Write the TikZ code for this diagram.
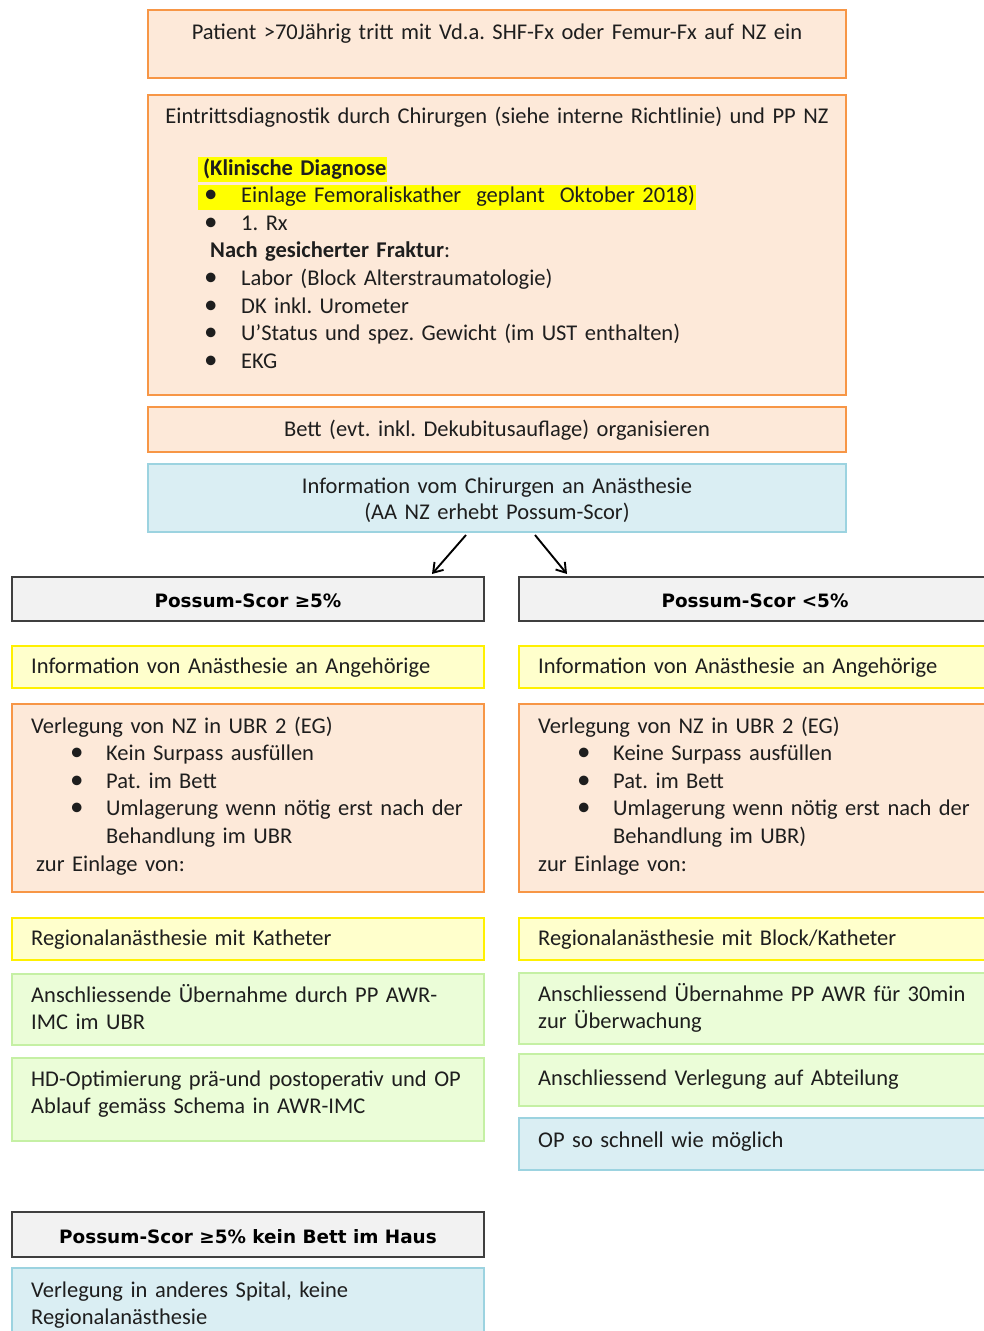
\documentclass[tikz,border=0pt]{standalone}
\usepackage{fontspec}
\setmainfont{Carlito}
\newfontfamily\hdfont{DejaVu Sans}
\usetikzlibrary{arrows.meta,calc}
\frenchspacing
\definecolor{ofill}{HTML}{FDE9D9}
\definecolor{odraw}{HTML}{F79646}
\definecolor{bfill}{HTML}{DAEEF3}
\definecolor{bdraw}{HTML}{9CD3E0}
\definecolor{yfill}{HTML}{FFFFCC}
\definecolor{ydraw}{HTML}{FFF000}
\definecolor{gfill}{HTML}{EBFDD8}
\definecolor{gdraw}{HTML}{C5F0A4}
\definecolor{kfill}{HTML}{F2F2F2}
\definecolor{kdraw}{HTML}{3F3F3F}
\definecolor{hly}{HTML}{FFFF00}
\definecolor{txtc}{HTML}{1E1E1E}
\newcommand\hlbox[1]{{\setlength{\fboxsep}{0pt}\hspace*{-5pt}\colorbox{hly}{\rule[-7pt]{0pt}{25pt}\hspace{5pt}#1\hspace{1pt}}}}
\newcommand\bul{\scalebox{1.2}{•}}
\newcommand\bl[1]{\hspace*{39pt}\makebox[36pt][l]{\bul}#1}
\newcommand\eb[1]{\hspace*{1pt}\makebox[37pt][l]{\bul}#1}
\tikzset{
  box/.style={rectangle, inner sep=0pt, line width=2pt},
  obox/.style={box, fill=ofill, draw=odraw, line width=2.6pt},
  bbox/.style={box, fill=bfill, draw=bdraw},
  ybox/.style={box, fill=yfill, draw=ydraw},
  gbox/.style={box, fill=gfill, draw=gdraw},
  kbox/.style={box, fill=kfill, draw=kdraw},
  txt/.style={inner sep=0pt, anchor=base west, align=left, text width=#1,
    font=\fontsize{22.5}{27.6}\selectfont, text=txtc},
  txt/.default=460pt,
  ctxt/.style={inner sep=0pt, anchor=base, align=center, text width=#1,
    font=\fontsize{22.5}{26}\selectfont, text=txtc},
  ctxt/.default=690pt,
  hd/.style={inner sep=0pt, anchor=base, font=\hdfont\bfseries\fontsize{18.4}{22}\selectfont, text=black},
  arr/.style={line width=1.9pt, -{Straight Barb[length=9pt,width=12pt,line width=1.9pt]}}
}
\begin{document}
\begin{tikzpicture}[x=1pt,y=-1pt]
\path[use as bounding box] (0,0) rectangle (984,1331);
\clip (0,0) rectangle (984,1331);
\fill[white] (0,0) rectangle (984,1331);
% boxes
\node[obox, minimum width=698pt, minimum height=68pt] (top) at (497,44) {};
\node[obox, minimum width=698pt, minimum height=300pt] (eintr) at (497,245) {};
\node[obox, minimum width=698pt, minimum height=45pt] (bett) at (497,429.5) {};
\node[bbox, minimum width=698pt, minimum height=68pt] (info) at (497,498) {};
\node[kbox, minimum width=472pt, minimum height=44pt] (pl) at (248,599) {};
\node[kbox, minimum width=472pt, minimum height=44pt] (pr) at (755,599) {};
\node[ybox, minimum width=472pt, minimum height=42pt] (yl1) at (248,667) {};
\node[ybox, minimum width=472pt, minimum height=42pt] (yr1) at (755,667) {};
\node[obox, minimum width=472pt, minimum height=188pt] (ol) at (248,798) {};
\node[obox, minimum width=472pt, minimum height=188pt] (or) at (755,798) {};
\node[ybox, minimum width=472pt, minimum height=42pt] (yl2) at (248,939) {};
\node[ybox, minimum width=472pt, minimum height=42pt] (yr2) at (755,939) {};
\node[gbox, minimum width=472pt, minimum height=71pt] (gl1) at (248,1009.5) {};
\node[gbox, minimum width=472pt, minimum height=71pt] (gr1) at (755,1008.5) {};
\node[gbox, minimum width=472pt, minimum height=83pt] (gl2) at (248,1099.5) {};
\node[gbox, minimum width=472pt, minimum height=52pt] (gr2) at (755,1080) {};
\node[bbox, minimum width=472pt, minimum height=52pt] (br) at (755,1144) {};
\node[kbox, minimum width=472pt, minimum height=45pt] (kb) at (248,1234.5) {};
\node[bbox, minimum width=472pt, minimum height=77pt] (bb) at (248,1306.5) {};
% arrows
\draw[arr] ($(info.south)+(-31,2)$) -- ($(pl.north)+(184,-2)$);
\draw[arr] ($(info.south)+(38,2)$) -- ($(pr.north)+(-188,-2)$);
% texts
\node[ctxt] (ttop) at (497,39) {Patient >70Jährig tritt mit Vd.a. SHF-Fx oder Femur-Fx auf NZ ein};
\node[ctxt] (teintr) at (497,123) {Eintrittsdiagnostik durch Chirurgen (siehe interne Richtlinie) und PP NZ};
\node[txt=620pt] (tlist) at (203,175) {\hlbox{\textbf{(Klinische Diagnose}}\\
\hlbox{\eb{Einlage Femoraliskather\ \ geplant\ \ Oktober 2018)}}\\
\eb{1. Rx}\\
\hspace*{7pt}\textbf{Nach gesicherter Fraktur}:\\
\eb{Labor (Block Alterstraumatologie)}\\
\eb{DK inkl. Urometer}\\
\eb{U'Status und spez. Gewicht (im UST enthalten)}\\
\eb{EKG}};
\node[ctxt] (tbett) at (497,436) {Bett (evt. inkl. Dekubitusauflage) organisieren};
\node[ctxt] (tinfo) at (497,493) {Information vom Chirurgen an Anästhesie\\(AA NZ erhebt Possum-Scor)};
\node[hd] (tpl) at (248,607) {Possum-Scor ≥5\%};
\node[hd] (tpr) at (755,607) {Possum-Scor <5\%};
\node[txt] (tyl1) at (31,673) {Information von Anästhesie an Angehörige};
\node[txt] (tyr1) at (538,673) {Information von Anästhesie an Angehörige};
\node[txt] (tol) at (31,733) {Verlegung von NZ in UBR 2 (EG)\\
\bl{Kein Surpass ausfüllen}\\
\bl{Pat. im Bett}\\
\bl{Umlagerung wenn nötig erst nach der}\\
\hspace*{75pt}Behandlung im UBR\\
\hspace*{5pt}zur Einlage von:};
\node[txt] (tor) at (538,733) {Verlegung von NZ in UBR 2 (EG)\\
\bl{Keine Surpass ausfüllen}\\
\bl{Pat. im Bett}\\
\bl{Umlagerung wenn nötig erst nach der}\\
\hspace*{75pt}Behandlung im UBR)\\
zur Einlage von:};
\node[txt] (tyl2) at (31,945) {Regionalanästhesie mit Katheter};
\node[txt] (tyr2) at (538,945) {Regionalanästhesie mit Block/Katheter};
\node[txt] (tgl1) at (31,1002) {Anschliessende Übernahme durch PP AWR-\\IMC im UBR};
\node[txt] (tgr1) at (538,1001) {Anschliessend Übernahme PP AWR für 30min\\zur Überwachung};
\node[txt] (tgl2) at (31,1086) {HD-Optimierung prä-und postoperativ und OP\\Ablauf gemäss Schema in AWR-IMC};
\node[txt] (tgr2) at (538,1085) {Anschliessend Verlegung auf Abteilung};
\node[txt] (tbr) at (538,1147) {OP so schnell wie möglich};
\node[hd] (tkb) at (248,1243) {Possum-Scor ≥5\% kein Bett im Haus};
\node[txt] (tbb) at (31,1297) {Verlegung in anderes Spital, keine\\Regionalanästhesie};
\end{tikzpicture}
\end{document}
